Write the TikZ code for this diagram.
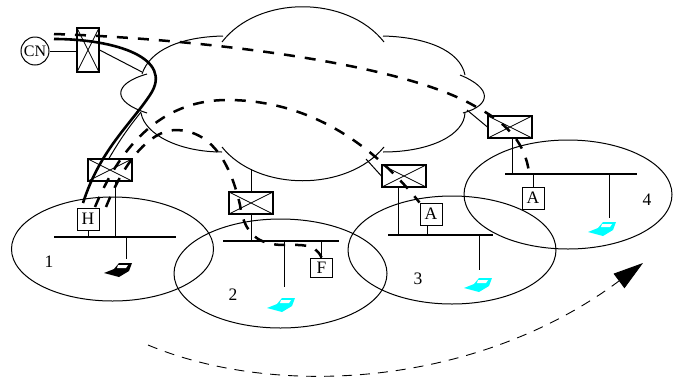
\documentclass[tikz,border=0pt]{standalone}
\usepackage{fontspec}
\setmainfont{Liberation Serif}
\usetikzlibrary{arrows.meta}
\usetikzlibrary{shapes.geometric}
\definecolor{pccyan}{RGB}{0,255,255}
\tikzstyle{every node}=[font=\fontsize{17.5}{20}\selectfont]
\tikzstyle{router}=[rectangle,
                    draw,
                    line width=1.2pt,
                    inner sep=0pt,
                    minimum width=44pt,
                    minimum height=22pt,
                    path picture={\draw[line width=.8pt] (path picture bounding box.north west) -- (path picture bounding box.south east)
                                  (path picture bounding box.north east) -- (path picture bounding box.south west);}]
\tikzstyle{host}=[rectangle,
                  draw,
                  line width=1pt,
                  inner sep=0pt,
                  minimum width=22pt,
                  minimum height=22pt]
\tikzstyle{lan}=[rectangle,
                 fill=black,
                 inner sep=0pt,
                 minimum height=1.1pt]
\tikzstyle{cell}=[ellipse,
                  draw,
                  line width=1pt,
                  inner sep=0pt]
\tikzstyle{link}=[line width=1pt]
\tikzstyle{route}=[line width=2.5pt,dash pattern=on 11pt off 10pt]
\newcommand{\laptop}[2]{
 \fill[#2,shift={(#1)}] (-15,3) -- (-5,-1) -- (0,-7) -- (13,-7) -- (10,1) -- (0,7) -- cycle;
 \fill[white,shift={(#1)}] (-1,-5) -- (9,-5) -- (7,-2) -- (-2,-2) -- cycle;
}
\begin{document}
\begin{tikzpicture}[x=1pt,y=-1pt]
\useasboundingbox (0,0) rectangle (676,378);
\draw[link] (222,42) .. controls (258,-5) and (347,-5) .. (384,42);
\draw[link] (223,36) .. controls (180,37) and (150,50) .. (142,74);
\draw[link] (147,74) .. controls (112,84) and (112,102) .. (147,113);
\draw[link] (141,113) .. controls (145,135) and (180,152) .. (222,152);
\draw[link] (222,147) .. controls (258,192) and (347,192) .. (384,147);
\draw[link] (383,152) .. controls (430,152) and (465,135) .. (465,112);
\draw[link] (463,113) .. controls (492,105) and (492,88) .. (460,75);
\draw[link] (465,75) .. controls (460,50) and (425,37) .. (383,36);
\node (CN)  [circle,draw,line width=1pt,inner sep=0pt,minimum size=28pt,font=\fontsize{16}{18}\selectfont] at (35,51) {CN};
\node (R_0) [router,minimum width=22pt,minimum height=44pt] at (88,50) {};
\node (R_1) [router] at (110,170) {};
\node (R_2) [router] at (251,203) {};
\node (R_3) [router] at (404,176) {};
\node (R_4) [router] at (510,127) {};
\node (cell_1) [cell,minimum width=202pt,minimum height=104pt] at (112.5,249) {};
\node (cell_2) [cell,minimum width=213pt,minimum height=109pt] at (280.5,273.5) {};
\node (cell_3) [cell,minimum width=208pt,minimum height=108pt] at (452,250) {};
\node (cell_4) [cell,minimum width=208pt,minimum height=109pt] at (568,194.5) {};
\node (lan_1) [lan,minimum width=122pt] at (115,237) {};
\node (lan_2) [lan,minimum width=116pt] at (281,241) {};
\node (lan_3) [lan,minimum width=105pt] at (440.5,235) {};
\node (lan_4) [lan,minimum width=132pt] at (571,174) {};
\node (H)   [host] at (88,219) {H};
\node (F)   [host,minimum height=19pt] at (321.5,267.5) {F};
\node (A_3) [host] at (431,214) {A};
\node (A_4) [host] at (533,198) {A};
\node (num_1) at (49,262) {1};
\node (num_2) at (233,295) {2};
\node (num_3) at (418,279) {3};
\node (num_4) at (647,200) {4};
\coordinate (cloud_0) at (142,72);
\coordinate (cloud_1) at (141,112);
\coordinate (cloud_2) at (251,169);
\coordinate (cloud_3) at (366,159);
\coordinate (cloud_4) at (467,110);
\coordinate (tap_1) at (126,259);
\coordinate (tap_2) at (284,287);
\coordinate (tap_3) at (479,270);
\coordinate (tap_4) at (609,218);
\coordinate (in_a) at (54,39);
\coordinate (in_b) at (54,34);
\coordinate (in_c) at (83,203);
\coordinate (out_c) at (95,207);
\coordinate (out_d) at (106,207);
\coordinate (end_4) at (529,172);
\coordinate (sweep_a) at (148,345);
\coordinate (sweep_b) at (643,263);
\laptop{119,270}{black}
\laptop{282,305}{pccyan}
\laptop{479,285}{pccyan}
\laptop{603,229}{pccyan}
\path[link] (CN) edge (CN -| R_0.west);
\path[link] (R_0.east) edge (cloud_0);
\path[link] ([xshift=-1pt]R_1.north) edge[bend left=4] (cloud_1);
\path[link] (R_2.north) edge (cloud_2);
\path[link] (R_3.west) edge (cloud_3);
\path[link] (R_4.west) edge (cloud_4);
\path[link] ([xshift=5pt]R_1.south) edge ([xshift=5pt]R_1.south |- lan_1);
\path[link] (R_2.south) edge (R_2.south |- lan_2);
\path[link] ([xshift=-6pt]R_3.south) edge ([xshift=-6pt]R_3.south |- lan_3);
\path[link] ([xshift=2pt]R_4.south) edge ([xshift=2pt]R_4.south |- lan_4);
\path[link] (H.south) edge (H.south |- lan_1);
\path[link] (F.north) edge (F.north |- lan_2);
\path[link] ([xshift=-4pt]A_3.south) edge ([xshift=-4pt]A_3.south |- lan_3);
\path[link] (A_4.north) edge (A_4.north |- lan_4);
\path[link] (tap_1 |- lan_1) edge (tap_1);
\path[link] (tap_2 |- lan_2) edge (tap_2);
\path[link] (tap_3 |- lan_3) edge (tap_3);
\path[link] (tap_4 |- lan_4) edge (tap_4);
\draw[line width=2.6pt] (in_a) .. controls (115,39) and (175,58) .. (150,95) .. controls (130,125) and (100,150) .. (in_c);
\draw[route] (in_b) .. controls (180,38) and (400,60) .. (478,108) .. controls (510,125) and (525,145) .. (end_4);
\draw[route] (out_c) .. controls (125,135) and (170,100) .. (227,100) .. controls (300,100) and (365,135) .. (A_3.north west);
\draw[route] (out_d) .. controls (125,160) and (150,131) .. (175,130) .. controls (215,130) and (232,170) .. (240,205) .. controls (245,240) and (265,245) .. (285,245) .. controls (300,245) and (315,243) .. (F.north);
\draw[line width=.9pt,dash pattern=on 10pt off 8pt,-{Triangle[length=30pt,width=18pt]}] (sweep_a) .. controls (280,400) and (480,385) .. (sweep_b);
\end{tikzpicture}
\end{document}
